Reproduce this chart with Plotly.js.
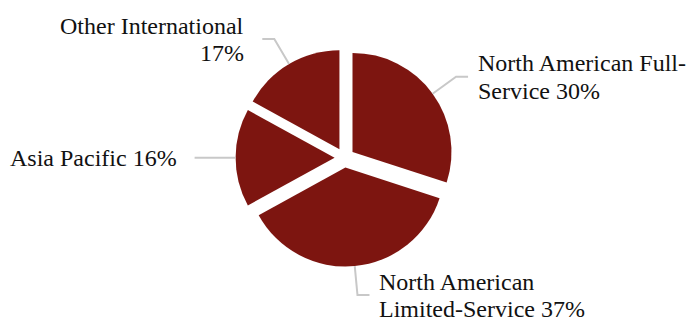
<!DOCTYPE html>
<html>
<head>
<meta charset="utf-8">
<script src="https://cdn.plot.ly/plotly-3.0.1.min.js"></script>
<style>
  html, body { margin: 0; padding: 0; background: #fff; }
  #chart { width: 686px; height: 318px; }
</style>
</head>
<body>
<div id="chart"></div>
<script>
// ---- data ----
const categories = ["North American Full-Service", "North American Limited-Service", "Asia Pacific", "Other International"];
const shares = [30, 37, 16, 17];
const labelLines = [
  ["North American Full-", "Service 30%"],
  ["North American", "Limited-Service 37%"],
  ["Asia Pacific 16%"],
  ["Other International", "17%"]
];

// ---- style / geometry ----
const W = 686, H = 318;
const cx = 344.5, cy = 157.7, r = 99, pull = 0.1;
const sliceColor = "#7d1510";
const lineColor = "#c8c8c8";
const fontFamily = "Liberation Serif";
const fontSize = 24, lineGap = 27.5;
const leaderOut = 29, leaderHoriz = 12;

const half = r * (1 + pull);
const domain = {
  x: [(cx - half) / W, (cx + half) / W],
  y: [1 - (cy + half) / H, 1 - (cy - half) / H]
};

const px = x => x / W;
const py = y => 1 - y / H;

const total = shares.reduce((a, b) => a + b, 0);
const shapes = [];
const annotations = [];
let cum = 0;
shares.forEach((v, i) => {
  const theta = 2 * Math.PI * (cum + v / 2) / total;
  cum += v;
  const dx = Math.sin(theta), dy = -Math.cos(theta);
  const pcx = cx + pull * r * dx, pcy = cy + pull * r * dy;
  const ex = pcx + r * dx, ey0 = pcy + r * dy;
  const bx = pcx + (r + leaderOut) * dx, by = pcy + (r + leaderOut) * dy;
  const right = dx >= 0;
  const hx = bx + (right ? leaderHoriz : -leaderHoriz);
  shapes.push({
    type: "path", xref: "paper", yref: "paper",
    path: `M ${px(ex)} ${py(ey0)} L ${px(bx)} ${py(by)} L ${px(hx)} ${py(by)}`,
    line: { color: lineColor, width: 2 }
  });
  const lines = labelLines[i];
  const n = lines.length;
  lines.forEach((t, k) => {
    const baseline = by + 8.5 + (k - (n - 1) / 2) * lineGap;
    annotations.push({
      xref: "paper", yref: "paper",
      x: px(right ? hx + 9 : hx - 17),
      y: py(baseline - 8),
      xanchor: right ? "left" : "right",
      yanchor: "middle",
      text: t, showarrow: false, align: right ? "left" : "right",
      font: { family: fontFamily, size: fontSize, color: "#111111" },
      borderpad: 0
    });
  });
});

const trace = {
  type: "pie",
  labels: categories,
  values: shares,
  sort: false,
  direction: "clockwise",
  rotation: 0,
  pull: shares.map(() => pull),
  textinfo: "none",
  hoverinfo: "none",
  marker: { colors: shares.map(() => sliceColor), line: { width: 0 } },
  domain: domain,
  showlegend: false
};

Plotly.newPlot("chart", [trace], {
  width: W, height: H,
  margin: { l: 0, r: 0, t: 0, b: 0 },
  paper_bgcolor: "#ffffff",
  font: { family: fontFamily },
  showlegend: false,
  shapes: shapes,
  annotations: annotations
}, { displayModeBar: false, staticPlot: true });
</script>
</body>
</html>
